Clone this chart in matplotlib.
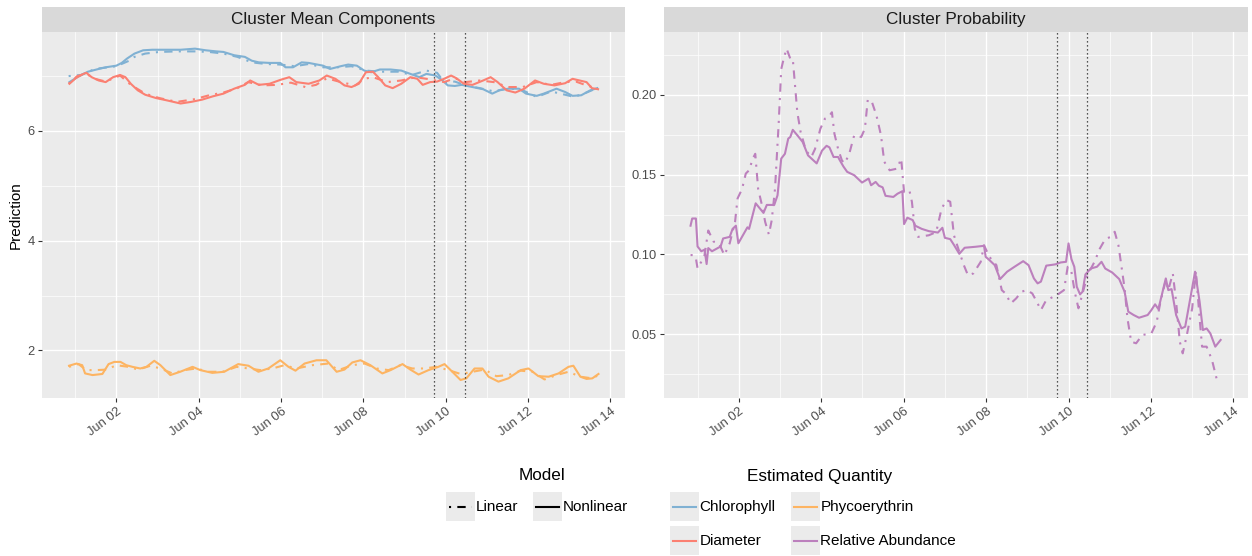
import numpy as np
import pandas as pd
import matplotlib
matplotlib.use('Agg')
import matplotlib.pyplot as plt
import matplotlib.dates as mdates
from matplotlib.patches import Rectangle
from matplotlib.lines import Line2D

plt.rcParams['font.family'] = ['Liberation Sans', 'DejaVu Sans']

# day d == Jun d 00:00 -------------------------------------------------
chl_nl_day = [0.86, 1.05, 1.31, 1.57, 1.74, 2.00, 2.13, 2.26, 2.44, 2.65, 2.87, 3.21, 3.56, 3.91, 4.17,
              4.43, 4.60, 4.86, 5.12, 5.29, 5.46, 5.72, 5.98, 6.11, 6.29, 6.50, 6.67, 7.02, 7.19, 7.45,
              7.63, 7.84, 8.02, 8.19, 8.40, 8.66, 8.92, 9.14, 9.36, 9.53, 9.75, 9.92, 10.05, 10.22, 10.39,
              10.65, 10.91, 11.13, 11.30, 11.52, 11.78, 11.95, 12.21, 12.38, 12.69, 12.90, 13.08, 13.29, 13.51, 13.68]
chl_nl = [6.89, 6.98, 7.08, 7.13, 7.16, 7.19, 7.24, 7.32, 7.41, 7.47, 7.48, 7.48, 7.48, 7.50, 7.47,
          7.45, 7.44, 7.38, 7.35, 7.28, 7.25, 7.24, 7.24, 7.16, 7.16, 7.25, 7.24, 7.19, 7.13, 7.18,
          7.21, 7.19, 7.10, 7.07, 7.12, 7.12, 7.10, 7.04, 6.98, 7.04, 7.01, 6.92, 6.83, 6.82, 6.84,
          6.80, 6.76, 6.68, 6.74, 6.77, 6.77, 6.68, 6.64, 6.68, 6.77, 6.71, 6.64, 6.65, 6.74, 6.78]

chl_lin_day = [0.84, 1.14, 1.48, 2.00, 2.31, 2.44, 2.70, 3.04, 3.47, 3.91, 4.25, 4.60, 4.94, 5.29, 5.64,
               5.98, 6.33, 6.67, 7.02, 7.37, 7.71, 8.06, 8.40, 8.84, 9.18, 9.53, 9.79, 9.96, 10.22, 10.48,
               10.83, 11.17, 11.52, 11.87, 12.21, 12.56, 12.90, 13.12, 13.42, 13.64]
chl_lin = [7.00, 7.02, 7.13, 7.18, 7.28, 7.35, 7.41, 7.44, 7.45, 7.45, 7.44, 7.41, 7.35, 7.25, 7.22,
           7.21, 7.18, 7.22, 7.16, 7.16, 7.18, 7.10, 7.08, 7.08, 7.02, 7.10, 7.06, 6.89, 6.90, 6.83,
           6.78, 6.72, 6.78, 6.74, 6.62, 6.72, 6.66, 6.62, 6.70, 6.77]

dia_nl_day = [0.86, 1.01, 1.14, 1.27, 1.40, 1.57, 1.74, 1.92, 2.09, 2.22, 2.35, 2.52, 2.70, 2.96, 3.21,
              3.56, 3.82, 4.08, 4.34, 4.60, 4.86, 5.12, 5.25, 5.46, 5.72, 5.98, 6.20, 6.37, 6.67, 6.93,
              7.11, 7.32, 7.54, 7.71, 7.89, 8.06, 8.23, 8.36, 8.53, 8.71, 8.92, 9.14, 9.31, 9.44, 9.62,
              9.79, 9.96, 10.13, 10.26, 10.44, 10.65, 10.91, 11.09, 11.26, 11.48, 11.69, 11.91, 12.17, 12.38, 12.64,
              12.90, 13.08, 13.25, 13.42, 13.55, 13.70]
dia_nl = [6.86, 6.96, 7.02, 7.06, 6.98, 6.92, 6.89, 6.98, 7.02, 6.98, 6.86, 6.74, 6.66, 6.60, 6.56,
          6.50, 6.53, 6.57, 6.63, 6.68, 6.77, 6.84, 6.92, 6.84, 6.86, 6.93, 6.98, 6.89, 6.86, 6.92,
          7.01, 6.95, 6.83, 6.80, 6.86, 7.07, 7.08, 6.98, 6.83, 6.78, 6.86, 6.98, 6.95, 6.84, 6.89,
          6.90, 6.95, 7.01, 6.96, 6.86, 6.84, 6.92, 6.98, 6.89, 6.74, 6.70, 6.77, 6.92, 6.86, 6.83,
          6.87, 6.95, 6.92, 6.89, 6.78, 6.76]

dia_lin_day = [0.84, 1.05, 1.27, 1.48, 1.74, 2.09, 2.35, 2.70, 3.04, 3.47, 3.91, 4.25, 4.60, 4.94, 5.20,
               5.55, 5.90, 6.24, 6.59, 6.85, 7.11, 7.45, 7.80, 8.02, 8.23, 8.58, 8.92, 9.27, 9.62, 9.96,
               10.22, 10.48, 10.83, 11.17, 11.52, 11.87, 12.21, 12.56, 12.90, 13.16, 13.42, 13.68]
dia_lin = [6.86, 7.00, 7.04, 6.95, 6.90, 7.01, 6.84, 6.68, 6.60, 6.53, 6.58, 6.65, 6.70, 6.78, 6.89,
           6.83, 6.84, 6.88, 6.80, 6.84, 6.96, 6.89, 6.83, 6.95, 6.98, 6.89, 6.92, 6.98, 6.94, 6.89,
           6.96, 6.89, 6.92, 6.89, 6.80, 6.80, 6.89, 6.84, 6.89, 6.90, 6.83, 6.77]

phy_nl_day = [0.85, 1.03, 1.17, 1.24, 1.42, 1.66, 1.81, 1.95, 2.10, 2.24, 2.39, 2.58, 2.73, 2.92, 3.07,
              3.31, 3.55, 3.85, 4.04, 4.33, 4.62, 4.96, 5.21, 5.45, 5.69, 5.98, 6.18, 6.35, 6.57, 6.86,
              7.10, 7.35, 7.54, 7.73, 7.93, 8.17, 8.46, 8.66, 8.95, 9.14, 9.34, 9.58, 9.82, 9.97, 10.16,
              10.36, 10.50, 10.70, 10.89, 11.04, 11.28, 11.52, 11.82, 12.01, 12.25, 12.50, 12.74, 12.98, 13.10, 13.27,
              13.42, 13.56, 13.71]
phy_nl = [1.72, 1.76, 1.73, 1.58, 1.55, 1.57, 1.75, 1.79, 1.79, 1.73, 1.70, 1.67, 1.70, 1.81, 1.73,
          1.55, 1.61, 1.70, 1.64, 1.59, 1.61, 1.75, 1.72, 1.61, 1.67, 1.82, 1.70, 1.63, 1.76, 1.82,
          1.82, 1.61, 1.65, 1.78, 1.82, 1.73, 1.58, 1.64, 1.75, 1.65, 1.56, 1.64, 1.70, 1.75, 1.61,
          1.46, 1.49, 1.67, 1.67, 1.52, 1.43, 1.49, 1.64, 1.67, 1.53, 1.52, 1.58, 1.70, 1.72, 1.52,
          1.48, 1.49, 1.57]

phy_lin_day = [0.85, 1.08, 1.27, 1.51, 1.76, 2.00, 2.29, 2.53, 2.83, 3.07, 3.36, 3.65, 3.94, 4.24, 4.58,
               4.92, 5.21, 5.50, 5.79, 6.08, 6.37, 6.76, 7.15, 7.39, 7.73, 8.03, 8.32, 8.61, 8.90, 9.19,
               9.48, 9.77, 10.07, 10.36, 10.65, 10.94, 11.23, 11.52, 11.82, 12.11, 12.40, 12.69, 12.98, 13.27, 13.56,
               13.71]
phy_lin = [1.70, 1.75, 1.64, 1.64, 1.65, 1.73, 1.70, 1.65, 1.72, 1.67, 1.58, 1.64, 1.67, 1.61, 1.61,
           1.70, 1.67, 1.64, 1.67, 1.73, 1.67, 1.73, 1.76, 1.64, 1.73, 1.76, 1.67, 1.64, 1.73, 1.67,
           1.67, 1.70, 1.64, 1.57, 1.61, 1.65, 1.53, 1.55, 1.63, 1.61, 1.47, 1.55, 1.61, 1.52, 1.49,
           1.55]

abund_nl_day = [0.83, 0.87, 0.96, 1.00, 1.09, 1.17, 1.22, 1.26, 1.35, 1.56, 1.62, 1.78, 1.85, 1.93, 1.99,
                2.21, 2.25, 2.41, 2.60, 2.68, 2.86, 2.94, 3.03, 3.12, 3.20, 3.25, 3.31, 3.42, 3.55, 3.68,
                3.89, 4.02, 4.13, 4.20, 4.30, 4.41, 4.45, 4.54, 4.63, 4.80, 4.99, 5.15, 5.21, 5.32, 5.40,
                5.49, 5.56, 5.75, 5.85, 5.97, 6.01, 6.09, 6.22, 6.28, 6.44, 6.61, 6.83, 6.94, 7.00, 7.13,
                7.22, 7.35, 7.48, 7.74, 7.95, 7.99, 8.08, 8.21, 8.34, 8.51, 8.69, 8.90, 9.03, 9.16, 9.25,
                9.33, 9.46, 9.68, 9.81, 9.94, 10.00, 10.07, 10.14, 10.20, 10.28, 10.34, 10.41, 10.54, 10.69, 10.80,
                10.89, 11.06, 11.23, 11.36, 11.45, 11.58, 11.71, 11.92, 12.01, 12.10, 12.18, 12.36, 12.42, 12.50, 12.61,
                12.74, 12.83, 13.07, 13.18, 13.26, 13.35, 13.44, 13.56, 13.69]
abund_nl = [0.118, 0.1225, 0.1225, 0.105, 0.102, 0.103, 0.094, 0.104, 0.102, 0.105, 0.110, 0.111, 0.116, 0.118, 0.107,
            0.117, 0.116, 0.132, 0.126, 0.131, 0.131, 0.137, 0.160, 0.163, 0.1725, 0.1735, 0.178, 0.1746, 0.1704, 0.162,
            0.157, 0.165, 0.168, 0.167, 0.161, 0.161, 0.159, 0.155, 0.1517, 0.1496, 0.145, 0.1475, 0.1433, 0.1454, 0.143,
            0.142, 0.1367, 0.136, 0.138, 0.1396, 0.119, 0.123, 0.1215, 0.118, 0.116, 0.1146, 0.1137, 0.1167, 0.1104, 0.1096,
            0.106, 0.1004, 0.1042, 0.1048, 0.1054, 0.0985, 0.0965, 0.0933, 0.0846, 0.0892, 0.0923, 0.0958, 0.0933, 0.085, 0.0819,
            0.083, 0.093, 0.0938, 0.095, 0.0954, 0.1069, 0.0971, 0.0923, 0.0798, 0.075, 0.0767, 0.0875, 0.0912, 0.0923, 0.0954,
            0.0912, 0.0887, 0.0846, 0.0767, 0.0642, 0.0621, 0.0604, 0.0621, 0.0652, 0.0688, 0.0658, 0.085, 0.0777, 0.0783, 0.0621,
            0.0537, 0.0548, 0.0892, 0.0704, 0.0527, 0.0537, 0.0506, 0.0423, 0.0465]

abund_lin_day = [0.83, 0.91, 0.96, 1.00, 1.09, 1.17, 1.26, 1.39, 1.52, 1.65, 1.78, 1.91, 1.97, 2.08, 2.17,
                 2.25, 2.34, 2.40, 2.47, 2.57, 2.64, 2.73, 2.80, 2.88, 2.97, 3.03, 3.09, 3.16, 3.25, 3.31,
                 3.42, 3.50, 3.63, 3.76, 3.85, 3.98, 4.09, 4.18, 4.26, 4.32, 4.41, 4.50, 4.56, 4.67, 4.80,
                 4.97, 5.06, 5.13, 5.23, 5.34, 5.45, 5.53, 5.66, 5.84, 5.94, 6.01, 6.14, 6.20, 6.27, 6.35,
                 6.61, 6.79, 6.92, 7.04, 7.13, 7.22, 7.35, 7.46, 7.56, 7.69, 7.87, 7.95, 8.08, 8.25, 8.38,
                 8.47, 8.60, 8.73, 8.86, 8.99, 9.12, 9.23, 9.33, 9.46, 9.55, 9.72, 9.89, 9.98, 10.07, 10.15,
                 10.24, 10.33, 10.46, 10.63, 10.76, 10.89, 11.02, 11.12, 11.21, 11.28, 11.36, 11.43, 11.52, 11.64, 11.79,
                 12.01, 12.14, 12.23, 12.36, 12.42, 12.53, 12.61, 12.70, 12.77, 12.87, 13.00, 13.09, 13.18, 13.24, 13.35,
                 13.48, 13.61]
abund_lin = [0.0996, 0.0996, 0.0975, 0.0913, 0.0954, 0.0996, 0.115, 0.108, 0.107, 0.0996, 0.107, 0.1204, 0.135, 0.141, 0.1506,
             0.1527, 0.160, 0.163, 0.141, 0.130, 0.1204, 0.1125, 0.1215, 0.1413, 0.183, 0.216, 0.2225, 0.2288, 0.2225, 0.2225,
             0.189, 0.1767, 0.165, 0.161, 0.166, 0.1787, 0.185, 0.186, 0.189, 0.1756, 0.166, 0.159, 0.157, 0.162, 0.1746,
             0.1735, 0.1787, 0.197, 0.1954, 0.187, 0.1746, 0.158, 0.1527, 0.1537, 0.160, 0.139, 0.140, 0.133, 0.116, 0.111,
             0.112, 0.114, 0.1287, 0.134, 0.133, 0.112, 0.1017, 0.0933, 0.087, 0.0881, 0.0954, 0.1058, 0.0985, 0.0933, 0.0777,
             0.0756, 0.0694, 0.0725, 0.0767, 0.0777, 0.0756, 0.0704, 0.0652, 0.0715, 0.0725, 0.0746, 0.0777, 0.0923, 0.0892, 0.0767,
             0.0663, 0.0746, 0.0871, 0.0954, 0.1037, 0.1096, 0.111, 0.1142, 0.1058, 0.0933, 0.0787, 0.060, 0.0454, 0.0444, 0.0496,
             0.0506, 0.0579, 0.0704, 0.084, 0.0777, 0.0881, 0.0704, 0.0454, 0.0381, 0.0496, 0.0663, 0.0896, 0.060, 0.0423, 0.0423,
             0.034, 0.0204]

vline_days = [9.71, 10.46]

colors = {'Chlorophyll': '#80B1D3', 'Diameter': '#FB8072',
          'Phycoerythrin': '#FDB462', 'Relative Abundance': '#BC80BD'}
DOTDASH = (0, (1, 3, 4, 3))
base = pd.Timestamp('2016-05-31')


def to_time(days):
    return base + pd.to_timedelta(np.asarray(days), unit='D')


def expand(vals, frac=0.05):
    lo, hi = min(vals), max(vals)
    pad = (hi - lo) * frac
    return lo - pad, hi + pad


W, H = 1252, 556
fig = plt.figure(figsize=(W / 100, H / 100), dpi=100)


def px_axes(x0, y0, x1, y1, **kw):
    return fig.add_axes([x0 / W, 1 - y1 / H, (x1 - x0) / W, (y1 - y0) / H], **kw)


ax1 = px_axes(41.7, 32, 625, 398.3)
ax2 = px_axes(664, 32, 1248, 398.3)

all_days = chl_nl_day + chl_lin_day + dia_nl_day + dia_lin_day + phy_nl_day + phy_lin_day + abund_nl_day + abund_lin_day
xlo, xhi = expand(all_days)

left_series = [
    (chl_lin_day, chl_lin, 'Chlorophyll', DOTDASH), (chl_nl_day, chl_nl, 'Chlorophyll', '-'),
    (dia_lin_day, dia_lin, 'Diameter', DOTDASH), (dia_nl_day, dia_nl, 'Diameter', '-'),
    (phy_lin_day, phy_lin, 'Phycoerythrin', DOTDASH), (phy_nl_day, phy_nl, 'Phycoerythrin', '-'),
]
right_series = [
    (abund_lin_day, abund_lin, 'Relative Abundance', DOTDASH), (abund_nl_day, abund_nl, 'Relative Abundance', '-'),
]

for ax, series in [(ax1, left_series), (ax2, right_series)]:
    ax.set_facecolor('#EBEBEB')
    for s in ax.spines.values():
        s.set_visible(False)
    for d, v, q, ls in series:
        ax.plot(to_time(d), v, color=colors[q], lw=1.5, ls=ls, zorder=3)
    for vd in vline_days:
        ax.axvline(to_time([vd])[0], color='#222222', lw=0.9, ls=(0, (1, 2.2)), zorder=4)
    allv = [x for s in series for x in s[1]]
    ax.set_ylim(*expand(allv))
    ax.set_xlim(to_time([xlo])[0], to_time([xhi])[0])
    ax.xaxis.set_major_locator(mdates.DayLocator(bymonthday=range(2, 15, 2)))
    ax.xaxis.set_minor_locator(mdates.DayLocator(bymonthday=range(1, 15, 2)))
    ax.xaxis.set_major_formatter(mdates.DateFormatter('%b %d'))
    ax.grid(which='major', color='white', lw=1.0, zorder=0)
    ax.grid(which='minor', color='white', lw=0.5, zorder=0)
    ax.set_axisbelow(True)
    ax.tick_params(which='major', length=3, width=0.8, color='#333333', labelcolor='#4D4D4D',
                   labelsize=9.3, pad=2)
    ax.tick_params(which='minor', length=0)
    for lab in ax.get_xticklabels():
        lab.set_rotation(37)
        lab.set_ha('right')
        lab.set_rotation_mode('anchor')

ax1.set_yticks([2, 4, 6])
ax1.set_yticks([3, 5, 7], minor=True)
ax1.set_yticklabels(['2', '4', '6'])
ax2.set_yticks([0.05, 0.10, 0.15, 0.20])
ax2.set_yticks([0.025, 0.075, 0.125, 0.175, 0.225], minor=True)
ax2.set_yticklabels(['0.05', '0.10', '0.15', '0.20'])

# facet strips
for (x0, x1), title in [((41.7, 625), 'Cluster Mean Components'), ((664, 1248), 'Cluster Probability')]:
    st = px_axes(x0, 7, x1, 32)
    st.set_facecolor('#D9D9D9')
    st.set_xticks([])
    st.set_yticks([])
    for s in st.spines.values():
        s.set_visible(False)
    st.text(0.5, 0.5, title, ha='center', va='center', size=12.3, color='#1A1A1A', transform=st.transAxes)

fig.text(16 / W, 1 - 215 / H, 'Prediction', rotation=90, ha='center', va='center', size=11)

# legends at the bottom
lg = fig.add_axes([0, 0, 1, 1])
lg.set_xlim(0, W)
lg.set_ylim(H, 0)
lg.axis('off')
lg.patch.set_alpha(0)

lg.text(542, 476, 'Model', ha='center', va='center', size=12.3)
lg.text(820, 476, 'Estimated Quantity', ha='center', va='center', size=12.3)

key = 29
for x0, y0, label, color, ls in [(446, 492, 'Linear', 'black', DOTDASH), (533, 492, 'Nonlinear', 'black', '-'),
                                  (670, 492, 'Chlorophyll', colors['Chlorophyll'], '-'),
                                  (791, 492, 'Phycoerythrin', colors['Phycoerythrin'], '-'),
                                  (670, 526, 'Diameter', colors['Diameter'], '-'),
                                  (791, 526, 'Relative Abundance', colors['Relative Abundance'], '-')]:
    lg.add_patch(Rectangle((x0, y0), key, key, facecolor='#EBEBEB', edgecolor='none'))
    lg.add_line(Line2D([x0 + 3, x0 + key - 3], [y0 + key / 2] * 2, color=color, lw=1.5, ls=ls))
    lg.text(x0 + key + 0.5, y0 + key / 2 + 0.5, label, ha='left', va='center', size=11)

fig.savefig('out.png', dpi=100)
